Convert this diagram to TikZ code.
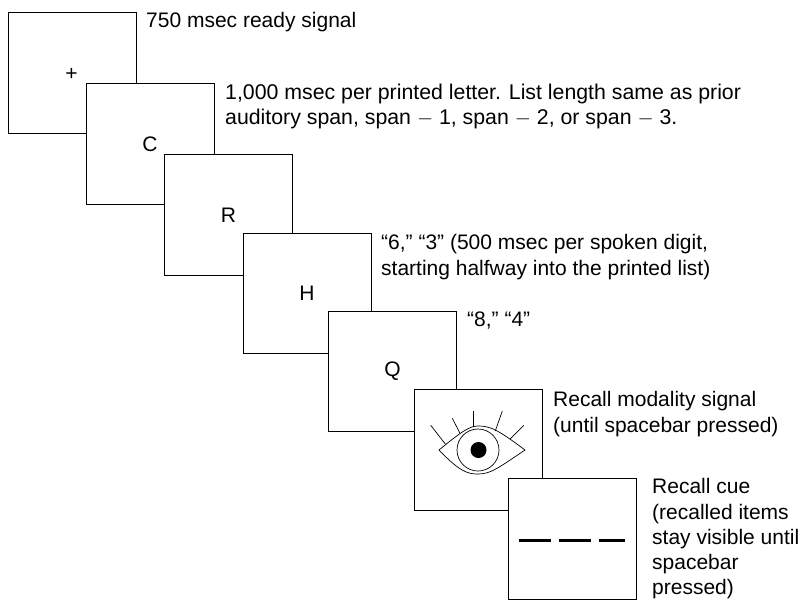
\documentclass[tikz,border=0pt]{standalone}
\usepackage{fontspec}
\setmainfont{Liberation Sans}
\begin{document}
\begin{tikzpicture}[
      x=1pt, y=-1pt,
      screen/.style={draw, fill=white, line width=0.9pt, inner sep=0pt, minimum width=128pt, minimum height=120.5pt, font=\fontsize{21}{26}\selectfont},
      note/.style={align=left, anchor=north west, inner sep=0pt, font=\fontsize{21}{25.2}\selectfont}
    ]
    \useasboundingbox (0,0) rectangle (802,600);
    \node[screen] (ready) at (72,73) {};
    \node[font=\fontsize{21}{26}\selectfont] (plus) at (71.5,74) {+};
    \node[screen] (c) at (150,144) {C};
    \node[screen] (r) at (228.5,215) {R};
    \node[screen] (h) at (307,293.5) {H};
    \node[screen] (q) at (392.5,371.5) {Q};
    \node[screen] (eyebox) at (478,450) {};
    \node[screen] (cue) at (572.3,539) {};

    % eye
    \draw[line width=0.7pt] (439,450) .. controls (462,431) and (470,426) .. (478,426) .. controls (490,426) and (497,429) .. (525,450) .. controls (497,469) and (490,474) .. (478,474) .. controls (468,474) and (460,472) .. (439,450) -- cycle;
    \draw[line width=0.7pt] (478,450) circle (21);
    \fill (478.5,450) circle (8);
    \draw[line width=0.7pt] (430.7,425.3) -- (445.3,444);
    \draw[line width=0.7pt] (452.3,418.3) -- (460,433.3);
    \draw[line width=0.7pt] (473.7,411) -- (473.7,426.7);
    \draw[line width=0.7pt] (502.3,411) -- (495.3,431);
    \draw[line width=0.7pt] (523.7,425.3) -- (510,439);

    % blanks
    \draw[line width=3pt] (518.7,540) -- (550.7,540);
    \draw[line width=3pt] (559,540) -- (591,540);
    \draw[line width=3pt] (599,540) -- (625.3,540);

    \node[note] (n1) at (146,12.5) {750 msec ready signal};
    \node[note, font=\fontsize{21.3}{25.3}\selectfont] (n2) at (225,83.5) {1,000 msec per printed letter. List length same as prior\\auditory span, span $-$ 1, span $-$ 2, or span $-$ 3.};
    \node[note] (n3) at (381,234.5) {“6,” “3” (500 msec per spoken digit,\\starting halfway into the printed list)};
    \node[note] (n4) at (467,311.5) {“8,” “4”};
    \node[note] (n5) at (553,391.5) {Recall modality signal\\(until spacebar pressed)};
    \node[note] (n6) at (652,478.5) {Recall cue\\(recalled items\\stay visible until\\spacebar\\pressed)};
  \end{tikzpicture}
\end{document}
